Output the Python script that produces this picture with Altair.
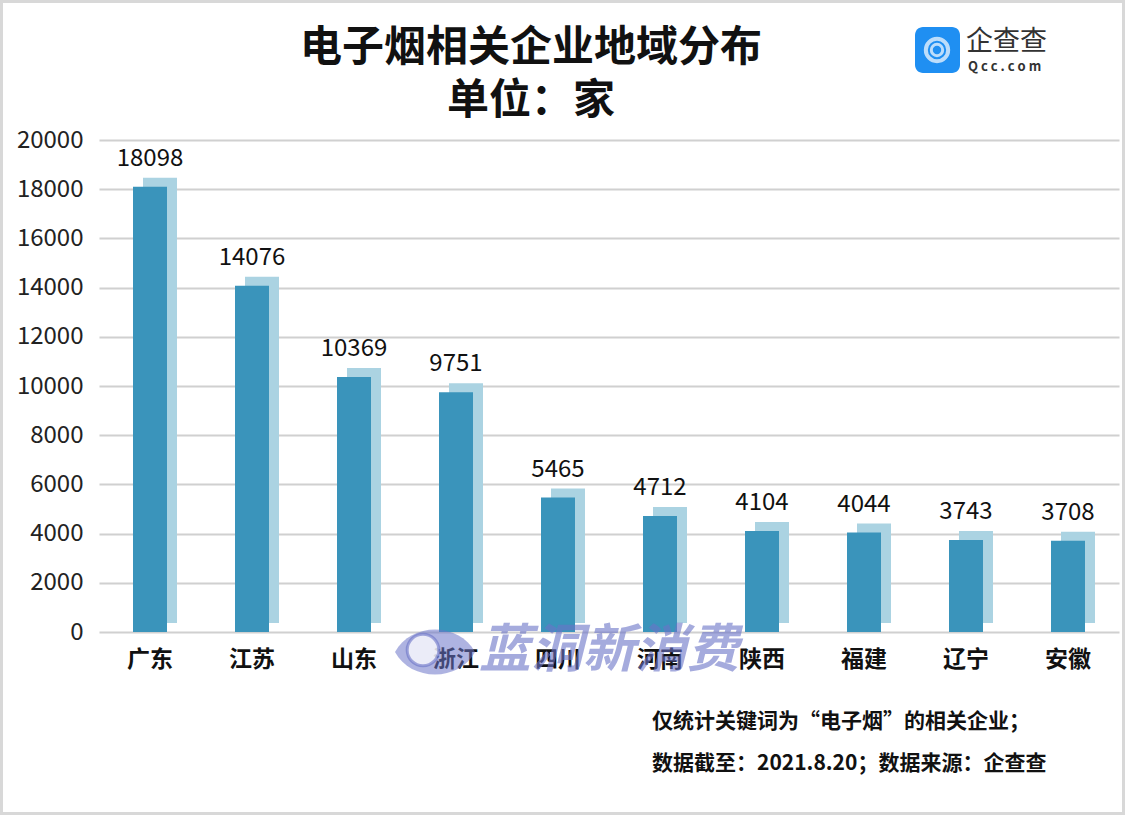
import altair as alt
import pandas as pd

provinces = ["广东", "江苏", "山东", "浙江", "四川", "河南", "陕西", "福建", "辽宁", "安徽"]
counts = [18098, 14076, 10369, 9751, 5465, 4712, 4104, 4044, 3743, 3708]
y_ticks = [0, 2000, 4000, 6000, 8000, 10000, 12000, 14000, 16000, 18000, 20000]

title_lines = ["电子烟相关企业地域分布", "单位：家"]
notes = ["仅统计关键词为“电子烟”的相关企业；", "数据截至：2021.8.20；数据来源：企查查"]
watermark = "蓝洞新消费"

FONT = "Noto Sans CJK SC"
DARK = "#3a94bb"
LIGHT = "#abd3e2"

df = pd.DataFrame({"province": provinces, "count": counts})
one = pd.DataFrame({"k": [0]})

x_enc = alt.X("province:N", sort=provinces,
              scale=alt.Scale(paddingInner=0, paddingOuter=0),
              axis=alt.Axis(title=None, labelAngle=0, domain=False, ticks=False,
                            labelFont=FONT, labelFontSize=23, labelFontWeight="bold",
                            labelColor="#111", labelPadding=16))
y_enc = alt.Y("count:Q", scale=alt.Scale(domain=[0, 20000], nice=False),
              axis=alt.Axis(title=None, values=y_ticks, domain=False, ticks=False,
                            labelFont=FONT, labelFontSize=24, labelColor="#222",
                            labelPadding=16, gridColor="#d0d0d0", gridWidth=2,
                            format="d"))

base = alt.Chart(df)
shadow = base.mark_bar(size=34, color=LIGHT, xOffset=10, yOffset=-9).encode(x=x_enc, y=y_enc)
bars = base.mark_bar(size=34, color=DARK).encode(x=x_enc, y=y_enc)
labels = base.mark_text(font=FONT, fontSize=24, color="#111", baseline="alphabetic", dy=-21).encode(
    x=x_enc, y=y_enc, text=alt.Text("count:Q", format="d"))

dec = alt.Chart(one)
title1 = dec.mark_text(font=FONT, fontSize=42, fontWeight="bold", color="#111", align="center",
                       baseline="middle").encode(x=alt.value(432), y=alt.value(-92),
                                                  text=alt.value(title_lines[0]))
title2 = dec.mark_text(font=FONT, fontSize=42, fontWeight="bold", color="#111", align="center",
                       baseline="middle").encode(x=alt.value(432), y=alt.value(-39),
                                                  text=alt.value(title_lines[1]))
note1 = dec.mark_text(font=FONT, fontSize=21, fontWeight="bold", color="#111", align="left",
                      baseline="middle").encode(x=alt.value(553), y=alt.value(582),
                                                text=alt.value(notes[0]))
note2 = dec.mark_text(font=FONT, fontSize=21, fontWeight="bold", color="#111", align="left",
                      baseline="middle").encode(x=alt.value(553), y=alt.value(624),
                                                text=alt.value(notes[1]))

# watermark
wm_text = dec.mark_text(font=FONT, fontSize=52, fontWeight="bold", fontStyle="italic",
                        color="#6b74c8", opacity=0.6, align="left", baseline="middle").encode(
    x=alt.value(380), y=alt.value(511), text=alt.value(watermark))
eye_path = "M -1 0 C -0.6 -0.75 0.6 -0.75 1 0 C 0.6 0.75 -0.6 0.75 -1 0 Z"
wm_eye = dec.mark_point(shape=eye_path, filled=True, color="#6b74c8", opacity=0.55, size=6400).encode(
    x=alt.value(336), y=alt.value(512))
wm_eye2 = dec.mark_point(shape="circle", filled=True, color="#ffffff", opacity=0.75, size=1000).encode(
    x=alt.value(324), y=alt.value(510))
wm_eye3 = dec.mark_point(shape="circle", filled=False, color="#6b74c8", opacity=0.6, strokeWidth=3,
                         size=1000).encode(x=alt.value(324), y=alt.value(510))

# logo
logo_box = dec.mark_rect(color="#1f8ff2", cornerRadius=8).encode(
    x=alt.value(816), x2=alt.value(861), y=alt.value(-113), y2=alt.value(-67))
logo_ring = dec.mark_point(shape="circle", filled=False, color="white", strokeWidth=4, size=500).encode(
    x=alt.value(838), y=alt.value(-90))
logo_ring2 = dec.mark_point(shape="circle", filled=False, color="white", strokeWidth=3, size=130).encode(
    x=alt.value(838), y=alt.value(-90))
logo_t1 = dec.mark_text(font=FONT, fontSize=27, color="#333", align="left", baseline="middle").encode(
    x=alt.value(867), y=alt.value(-98), text=alt.value("企查查"))
logo_t2 = dec.mark_text(font=FONT, fontSize=13, fontWeight="bold", color="#333", align="left",
                        baseline="middle").encode(
    x=alt.value(869), y=alt.value(-73), text=alt.value("Q c c . c o m"))

border = dec.mark_rect(fill=None, stroke="#d8d8d8", strokeWidth=3).encode(
    x=alt.value(-97.5), x2=alt.value(1024.5), y=alt.value(-138.5), y2=alt.value(673.5))

chart = alt.layer(
    shadow, bars, labels, wm_eye, wm_eye2, wm_eye3, wm_text,
    title1, title2, note1, note2, logo_box, logo_ring, logo_ring2, logo_t1, logo_t2, border
).properties(
    width=1020, height=492,
    padding={"left": 99, "top": 140, "right": 6, "bottom": 183},
    autosize=alt.AutoSizeParams(type="none"),
    background="white",
).configure_view(stroke=None)

chart.save("out.html", embed_options={"renderer": "svg", "actions": False})
